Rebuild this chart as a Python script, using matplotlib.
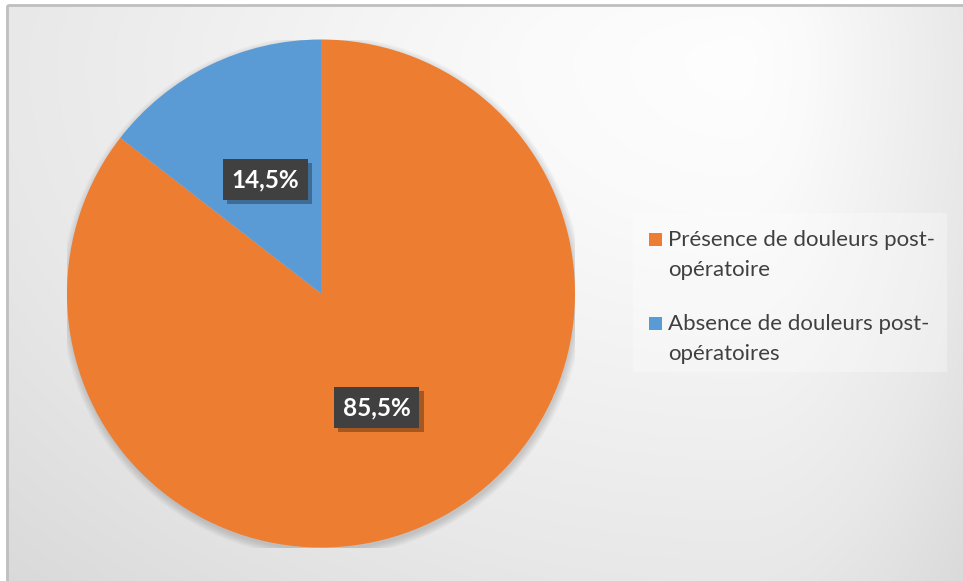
import numpy as np
import matplotlib
matplotlib.use("Agg")
import matplotlib.pyplot as plt
from matplotlib.patches import Rectangle, Circle
from matplotlib import patheffects

plt.rcParams['font.family'] = ['Lato', 'DejaVu Sans']

# data
categories = ["Présence de douleurs post-\nopératoire",
              "Absence de douleurs post-\nopératoires"]
values = [85.5, 14.5]
colors = ["#ED7D31", "#5B9BD5"]

W, H = 963, 581
fig = plt.figure(figsize=(W / 100, H / 100), dpi=100)
fig.patch.set_facecolor("white")

def px(x, y):
    # pixel (from top-left) -> figure fraction
    return x / W, 1 - y / H

# background gradient inside the chart border
bg = fig.add_axes([0, 0, 1, 1])
yy, xx = np.mgrid[0:H, 0:W].astype(float)
cx, cy = 740, 60
dx = np.where(xx < cx, (xx - cx) / 740, (xx - cx) / 230)
dy = np.where(yy < cy, (yy - cy) / 300, (yy - cy) / 520)
t = np.sqrt(dx ** 2 + dy ** 2)
val = np.interp(t, [0, 0.3, 1.0, 1.45], [254, 250, 232, 216]) / 255
img = np.dstack([val, val, val])
img[:5, :, :] = 1
img[:, :7, :] = 1
bg.imshow(img, extent=(0, W, H, 0), aspect="auto", interpolation="bilinear")
bg.add_patch(Rectangle((7, 5), W + 20, H + 20, fill=False, edgecolor="#bfbfbf", lw=2))
bg.set_xlim(0, W)
bg.set_ylim(H, 0)
bg.axis("off")

# pie
R = 254
pcx, pcy = 321, 293.5
x0, y1 = px(pcx - R, pcy + R)
ax = fig.add_axes([x0, y1, 2 * R / W, 2 * R / H])
for k in range(8):
    ax.add_patch(Circle((0.004, -0.012), 1.0 + 0.004 * k, color="black", alpha=0.018, lw=0, zorder=0))
wedges, texts, autotexts = ax.pie(
    values, colors=colors, startangle=90, counterclock=False,
    autopct=lambda p: f"{p:.1f}%".replace(".", ","), pctdistance=0.5,
    wedgeprops=dict(linewidth=0), radius=1.0)
for at in autotexts:
    at.set_color("white")
    at.set_fontsize(17.5)
    at.set_fontweight("bold")
    at.set_bbox(dict(boxstyle="square,pad=0.36", facecolor="#404040", edgecolor="none"))
    at.get_bbox_patch().set_path_effects([
        patheffects.withSimplePatchShadow(offset=(3, -3), shadow_rgbFace="black", alpha=0.3),
        patheffects.Normal()])
ax.set_xlim(-1, 1)
ax.set_ylim(-1, 1)
ax.set_aspect("equal")
ax.axis("off")

# legend
bg.add_patch(Rectangle((633, 213), 314, 159, facecolor="white", alpha=0.3, edgecolor="none"))
baselines = [245.7, 329.5]
line_gap = 30
for lab, col, yb in zip(categories, colors, baselines):
    bg.add_patch(Rectangle((649, yb - 13), 13, 13, facecolor=col, edgecolor="none"))
    for i, line in enumerate(lab.split("\n")):
        bg.text(668, yb + i * line_gap, line, fontsize=16, color="#404040",
                ha="left", va="baseline")

fig.savefig("out.png", dpi=100)
